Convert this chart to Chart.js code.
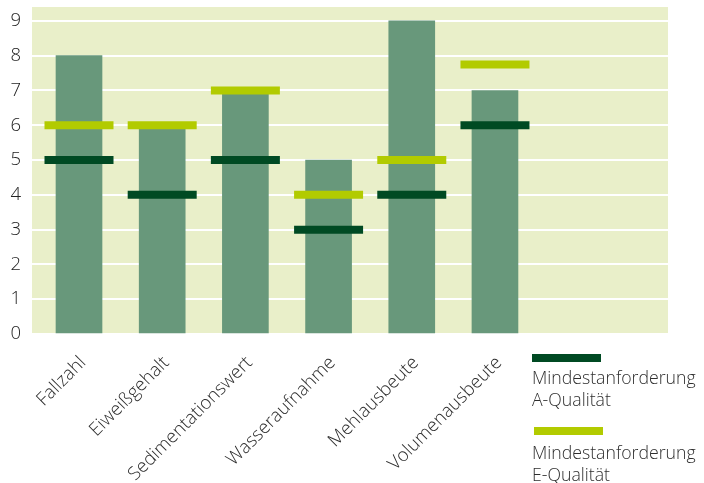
<!DOCTYPE html>
<html>
<head>
<meta charset="utf-8">
<script src="https://cdn.jsdelivr.net/npm/chart.js@4"></script>
<style>
  body { margin: 0; background: #fff; }
  #wrap { position: relative; width: 704px; height: 483px; }
  .swatch { position: absolute; width: 69px; height: 8px; }
  .leg { position: absolute; font: 300 17.7px "Open Sans", Roboto, sans-serif; line-height: 22px; color: #2e2e2e; }
</style>
</head>
<body>
<div id="wrap">
  <canvas id="chart" width="704" height="483"></canvas>
  <div class="swatch" style="left:532px;top:354px;background:#004a23"></div>
  <div class="leg" style="left:532px;top:366px">Mindestanforderung<br>A-Qualität</div>
  <div class="swatch" style="left:534px;top:427px;background:#b2cb00"></div>
  <div class="leg" style="left:532px;top:441px">Mindestanforderung<br>E-Qualität</div>
</div>
<script>
var labels = [ "Fallzahl", "Eiweißgehalt", "Sedimentationswert", "Wasseraufnahme", "Mehlausbeute", "Volumenausbeute" ];
var werte = [ 8, 6, 7, 5, 9, 7 ];
var aQualitaet = [ 5, 4, 5, 3, 4, 6 ];
var eQualitaet = [ 6, 6, 7, 4, 5, 7.75 ];
var yTicks = [ 0, 1, 2, 3, 4, 5, 6, 7, 8, 9 ];

function punkte( arr ) {
    return arr.map( function ( v, i ) { return { x: i, y: v }; } );
}

function marker( arr, color ) {
    return {
        type: "line",
        data: punkte( arr ),
        showLine: false,
        pointStyle: "line",
        pointRadius: 34.5,
        pointHoverRadius: 34.5,
        pointBorderWidth: 8,
        pointHoverBorderWidth: 8,
        pointBorderColor: color,
        pointBackgroundColor: color,
        order: 0
    };
}

// keep the plot area where the original has it
function noPadding( scale ) {
    scale.paddingTop = 0;
    scale.paddingBottom = 0;
    scale.paddingLeft = 0;
    scale.paddingRight = 0;
}

var plotBg = {
    id: "plotBg",
    beforeDraw: function ( chart ) {
        var a = chart.chartArea, ctx = chart.ctx;
        ctx.save();
        ctx.fillStyle = "#e9efc9";
        ctx.fillRect( a.left, a.top, a.right - a.left, a.bottom - a.top - 1 );
        ctx.restore();
    }
};

new Chart( document.getElementById( "chart" ), {
    type: "bar",
    data: {
        datasets: [
            marker( aQualitaet, "#004a23" ),
            marker( eQualitaet, "#b2cb00" ),
            {
                type: "bar",
                data: punkte( werte ),
                backgroundColor: "#68987b",
                barThickness: 46,
                order: 2
            }
        ]
    },
    options: {
        responsive: false,
        animation: false,
        layout: { autoPadding: false, padding: { top: 7, right: 36 } },
        plugins: { legend: { display: false }, tooltip: { enabled: false } },
        scales: {
            x: {
                type: "linear",
                offset: false,
                min: -0.565,
                max: 7.08,
                grid: { display: false },
                border: { display: false },
                afterBuildTicks: function ( scale ) {
                    scale.ticks = labels.map( function ( l, i ) { return { value: i }; } );
                },
                afterFit: function ( scale ) { scale.height = 149; noPadding( scale ); },
                ticks: {
                    autoSkip: false,
                    minRotation: 45,
                    maxRotation: 45,
                    padding: 10,
                    labelOffset: 4,
                    color: "#2e2e2e",
                    font: { family: "'Open Sans', Roboto, sans-serif", size: 18.5, weight: 300 },
                    callback: function ( v ) { return labels[ v ]; }
                }
            },
            y: {
                min: 0,
                max: 9.4,
                afterBuildTicks: function ( scale ) {
                    scale.ticks = yTicks.map( function ( v ) { return { value: v }; } );
                },
                afterFit: function ( scale ) { scale.width = 32; noPadding( scale ); },
                grid: { color: "#ffffff", lineWidth: 2, drawTicks: false },
                border: { display: false },
                ticks: {
                    padding: 11,
                    color: "#222",
                    font: { family: "'Open Sans', Roboto, sans-serif", size: 18.5, weight: 300 }
                }
            }
        }
    },
    plugins: [ plotBg ]
} );
</script>
</body>
</html>
